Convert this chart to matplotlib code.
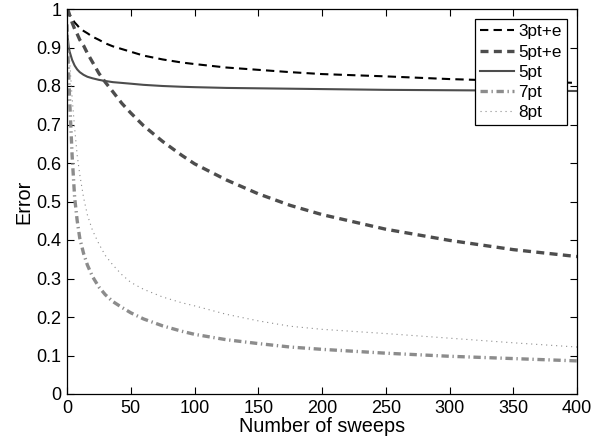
import matplotlib
matplotlib.use("Agg")
import matplotlib.pyplot as plt

plt.rcParams["font.family"] = ["Liberation Sans", "DejaVu Sans"]

# sweep positions where the curves were read
sweeps = [0, 1, 2, 4, 6, 8, 10, 13, 16, 20, 25, 30, 36, 43, 50, 60, 75, 90,
          100, 125, 150, 175, 200, 250, 300, 350, 400]

err_3pt_e = [1.0, 0.99, 0.985, 0.975, 0.965, 0.958, 0.95, 0.943, 0.937, 0.928,
             0.92, 0.911, 0.903, 0.896, 0.889, 0.879, 0.869, 0.861, 0.857,
             0.848, 0.842, 0.836, 0.831, 0.825, 0.818, 0.813, 0.808]
err_5pt_e = [1.0, 0.995, 0.985, 0.965, 0.948, 0.935, 0.92, 0.905, 0.885, 0.862,
             0.833, 0.81, 0.785, 0.755, 0.73, 0.697, 0.656, 0.62, 0.598,
             0.556, 0.52, 0.49, 0.466, 0.428, 0.399, 0.375, 0.357]
err_5pt = [0.94, 0.91, 0.89, 0.868, 0.853, 0.843, 0.836, 0.829, 0.824, 0.82,
           0.816, 0.813, 0.81, 0.808, 0.806, 0.803, 0.8, 0.798, 0.797, 0.795,
           0.794, 0.793, 0.792, 0.79, 0.789, 0.788, 0.787]
err_7pt = [0.96, 0.86, 0.77, 0.62, 0.51, 0.45, 0.405, 0.365, 0.335, 0.305,
           0.278, 0.258, 0.24, 0.225, 0.211, 0.195, 0.177, 0.163, 0.155,
           0.141, 0.131, 0.122, 0.116, 0.106, 0.098, 0.092, 0.086]
err_8pt = [0.97, 0.92, 0.87, 0.77, 0.69, 0.62, 0.57, 0.51, 0.465, 0.425,
           0.39, 0.36, 0.335, 0.31, 0.29, 0.272, 0.252, 0.237, 0.229, 0.207,
           0.19, 0.176, 0.168, 0.157, 0.145, 0.133, 0.122]

fig = plt.figure(figsize=(6.08, 4.41), dpi=100)
ax = fig.add_axes([67 / 608, 47 / 441, 510 / 608, 385 / 441])

ax.plot(sweeps, err_3pt_e, color="black", lw=1.5, dashes=(4, 2.5), label="3pt+e")
ax.plot(sweeps, err_5pt_e, color="#4d4d4d", lw=2.4, dashes=(2.4, 1.6), label="5pt+e")
ax.plot(sweeps, err_5pt, color="#4d4d4d", lw=1.5, label="5pt")
ax.plot(sweeps, err_7pt, color="#8c8c8c", lw=2.4, dashes=(2.2, 1.1, 0.4, 1.1), label="7pt")
ax.plot(sweeps, err_8pt, color="#8c8c8c", lw=0.8, dashes=(1, 3.5), label="8pt")

ax.set_xlim(0, 400)
ax.set_ylim(0, 1)
ax.set_xticks(range(0, 401, 50))
ax.set_yticks([i / 10 for i in range(11)])
ax.set_yticklabels(["0", "0.1", "0.2", "0.3", "0.4", "0.5", "0.6", "0.7", "0.8", "0.9", "1"])
ax.tick_params(direction="in", top=True, right=True, length=5, width=0.8,
               labelsize=13, pad=4)
for s in ax.spines.values():
    s.set_linewidth(0.9)

ax.set_xlabel("Number of sweeps", fontsize=14.3, labelpad=0)
ax.set_ylabel("Error", fontsize=14.3, labelpad=2)

leg = ax.legend(loc="upper right", fontsize=12.3, frameon=True, fancybox=False,
                framealpha=1, edgecolor="black", handlelength=2.0,
                handletextpad=0.25, borderpad=0.3, labelspacing=0.3,
                borderaxespad=0.6)
leg.get_frame().set_linewidth(0.9)

fig.savefig("out.png", dpi=100)
